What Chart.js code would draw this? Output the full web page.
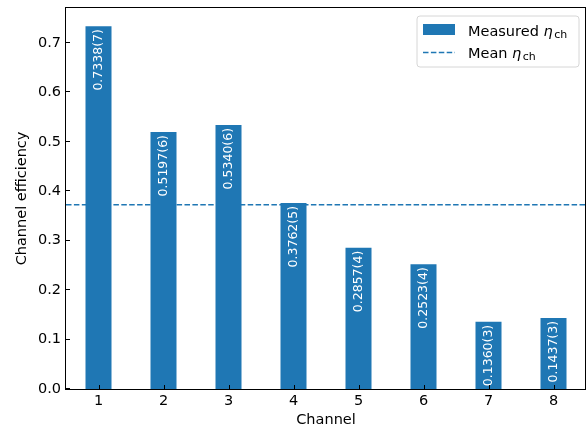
<!DOCTYPE html>
<html>
<head>
<meta charset="utf-8">
<script src="https://cdn.jsdelivr.net/npm/chart.js@4.4.1/dist/chart.umd.min.js"></script>
<style>
  html, body { margin: 0; padding: 0; background: #fff; }
  canvas { display: block; }
</style>
</head>
<body>
<canvas id="c" width="587" height="429"></canvas>
<script>
// Per-channel efficiency measurements
const channels = ['1', '2', '3', '4', '5', '6', '7', '8'];
const efficiency = [0.7338, 0.5197, 0.5340, 0.3762, 0.2857, 0.2523, 0.1360, 0.1437];
const efficiencyLabels = ['0.7338(7)', '0.5197(6)', '0.5340(6)', '0.3762(5)',
                          '0.2857(4)', '0.2523(4)', '0.1360(3)', '0.1437(3)'];
const yTicks = [0.0, 0.1, 0.2, 0.3, 0.4, 0.5, 0.6, 0.7];
const yMax = 0.7705;

const meanEfficiency = efficiency.reduce((a, b) => a + b, 0) / efficiency.length;

const BLUE = '#1f77b4';
const FONT = '"DejaVu Sans", sans-serif';
const TEXT_SIZE = 14.5;

// Dashed mean line, drawn underneath the bars
const meanLinePlugin = {
  id: 'meanLine',
  beforeDatasetsDraw(chart) {
    const { ctx, chartArea, scales } = chart;
    const y = scales.y.getPixelForValue(meanEfficiency);
    ctx.save();
    ctx.strokeStyle = BLUE;
    ctx.lineWidth = 1.5;
    ctx.setLineDash([5.5, 2.4]);
    ctx.beginPath();
    ctx.moveTo(chartArea.left, y);
    ctx.lineTo(chartArea.right, y);
    ctx.stroke();
    ctx.restore();
  }
};

// Frame, inward ticks, value labels, axis titles and legend
const decorPlugin = {
  id: 'decor',
  afterDatasetsDraw(chart) {
    const { ctx, chartArea, scales } = chart;
    const { left, right, top, bottom } = chartArea;
    ctx.save();

    // value labels inside the bars, rotated
    const meta = chart.getDatasetMeta(0);
    ctx.fillStyle = '#ffffff';
    ctx.font = '12.5px ' + FONT;
    meta.data.forEach((bar, i) => {
      const x = bar.x;
      const yTop = scales.y.getPixelForValue(efficiency[i]);
      ctx.save();
      ctx.translate(x, yTop + 3);
      ctx.rotate(-Math.PI / 2);
      ctx.textAlign = 'right';
      ctx.textBaseline = 'middle';
      ctx.fillText(efficiencyLabels[i], 0, 0);
      ctx.restore();
    });

    // frame
    ctx.strokeStyle = '#000';
    ctx.lineWidth = 1;
    ctx.strokeRect(Math.round(left) - 0.5, Math.round(top) - 0.5,
                   Math.round(right - left), Math.round(bottom - top) + 1);

    // inward tick marks
    ctx.beginPath();
    scales.y.ticks.forEach(t => {
      const py = Math.round(scales.y.getPixelForValue(t.value)) - 0.5;
      ctx.moveTo(left, py);
      ctx.lineTo(left + 4, py);
    });
    channels.forEach((c, i) => {
      const px = Math.round(scales.x.getPixelForValue(i)) + 0.5;
      ctx.moveTo(px, bottom);
      ctx.lineTo(px, bottom - 4);
    });
    ctx.stroke();

    // axis titles
    ctx.fillStyle = '#000';
    ctx.font = TEXT_SIZE + 'px ' + FONT;
    ctx.textAlign = 'center';
    ctx.textBaseline = 'middle';
    ctx.fillText('Channel', (left + right) / 2, 420);
    ctx.save();
    ctx.translate(22.5, (top + bottom) / 2);
    ctx.rotate(-Math.PI / 2);
    ctx.fillText('Channel efficiency', 0, 0);
    ctx.restore();

    // legend
    const lx = 417, ly = 16, lw = 162, lh = 51, r = 3;
    ctx.beginPath();
    ctx.moveTo(lx + r, ly);
    ctx.arcTo(lx + lw, ly, lx + lw, ly + lh, r);
    ctx.arcTo(lx + lw, ly + lh, lx, ly + lh, r);
    ctx.arcTo(lx, ly + lh, lx, ly, r);
    ctx.arcTo(lx, ly, lx + lw, ly, r);
    ctx.closePath();
    ctx.fillStyle = 'rgba(255,255,255,0.8)';
    ctx.fill();
    ctx.strokeStyle = '#d6d6d6';
    ctx.lineWidth = 1;
    ctx.stroke();

    ctx.fillStyle = BLUE;
    ctx.fillRect(423, 24, 32, 11);

    ctx.strokeStyle = BLUE;
    ctx.lineWidth = 1.5;
    ctx.setLineDash([5.5, 2.4]);
    ctx.beginPath();
    ctx.moveTo(423, 52.5);
    ctx.lineTo(455, 52.5);
    ctx.stroke();
    ctx.setLineDash([]);

    const drawEta = (label, x, baseline) => {
      ctx.fillStyle = '#000';
      ctx.textAlign = 'left';
      ctx.textBaseline = 'alphabetic';
      ctx.font = TEXT_SIZE + 'px ' + FONT;
      ctx.fillText(label, x, baseline);
      let cx = x + ctx.measureText(label).width;
      ctx.font = 'italic ' + TEXT_SIZE + 'px ' + FONT;
      ctx.fillText('η', cx, baseline);
      cx += ctx.measureText('η').width + 1.5;
      ctx.font = '11px ' + FONT;
      ctx.fillText('ch', cx, baseline + 2.5);
    };
    drawEta('Measured ', 468, 35.5);
    drawEta('Mean ', 468, 57.5);

    ctx.restore();
  }
};

new Chart(document.getElementById('c'), {
  type: 'bar',
  data: {
    labels: channels,
    datasets: [{
      label: 'Measured',
      data: efficiency,
      backgroundColor: BLUE,
      borderWidth: 0,
      barPercentage: 0.4,
      categoryPercentage: 1.0
    }]
  },
  options: {
    responsive: false,
    animation: false,
    devicePixelRatio: 1,
    layout: { padding: { left: 0, right: 1, top: 8, bottom: 0 } },
    plugins: {
      legend: { display: false },
      tooltip: { enabled: false }
    },
    scales: {
      x: {
        type: 'category',
        offset: true,
        grid: { display: false, drawTicks: false },
        border: { display: false },
        ticks: { color: '#000', font: { family: FONT, size: TEXT_SIZE }, padding: 4, maxRotation: 0 },
        afterFit(scale) {
          scale.height = 40;
          scale.paddingLeft = 0;
          scale.paddingRight = 0;
        }
      },
      y: {
        type: 'linear',
        min: 0,
        max: yMax,
        grid: { display: false, drawTicks: false },
        border: { display: false },
        ticks: {
          color: '#000',
          font: { family: FONT, size: TEXT_SIZE },
          padding: 5,
          callback: v => v.toFixed(1)
        },
        afterBuildTicks(scale) { scale.ticks = yTicks.map(v => ({ value: v })); },
        afterFit(scale) {
          scale.width = 66;
          scale.paddingTop = 0;
          scale.paddingBottom = 0;
        }
      }
    }
  },
  plugins: [meanLinePlugin, decorPlugin]
});
</script>
</body>
</html>
